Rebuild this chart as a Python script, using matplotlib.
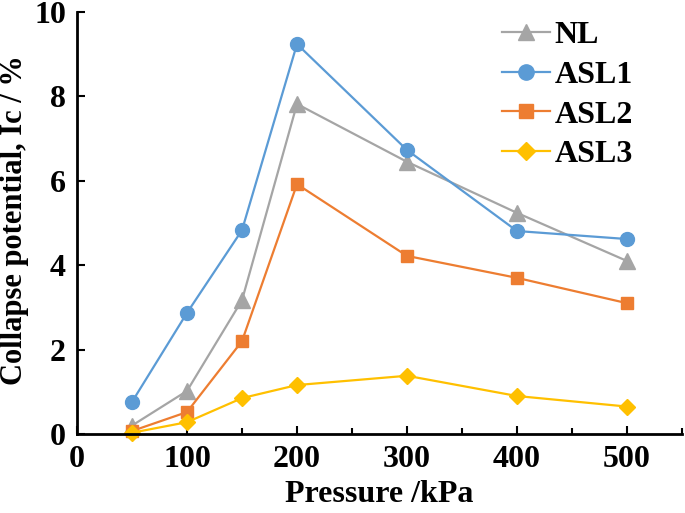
import matplotlib
matplotlib.use("Agg")
import matplotlib.pyplot as plt
from matplotlib.ticker import MultipleLocator

pressure = [50, 100, 150, 200, 300, 400, 500]
nl   = [0.20, 1.02, 3.17, 7.82, 6.45, 5.24, 4.10]
asl1 = [0.76, 2.87, 4.83, 9.24, 6.73, 4.81, 4.62]
asl2 = [0.07, 0.52, 2.20, 5.92, 4.22, 3.70, 3.10]
asl3 = [0.03, 0.28, 0.85, 1.16, 1.38, 0.90, 0.65]
series_names = ["NL", "ASL1", "ASL2", "ASL3"]

plt.rcParams['font.family'] = ['Liberation Serif', 'DejaVu Serif']
plt.rcParams['font.weight'] = 'bold'

fig = plt.figure(figsize=(6.85, 5.13), dpi=100)
ax = fig.add_axes([0.1124, 0.154, 0.8832, 0.8226])

styles = [
    dict(color='#A5A5A5', marker='^', ms=11),
    dict(color='#5B9BD5', marker='o', ms=10),
    dict(color='#ED7D31', marker='s', ms=9),
    dict(color='#FFC000', marker='D', ms=8),
]
for vals, name, st in zip([nl, asl1, asl2, asl3], series_names, styles):
    ax.plot(pressure, vals, color=st['color'], marker=st['marker'], ms=st['ms'],
            lw=1.6, mec=st['color'], mfc=st['color'], label=name, clip_on=False)

ax.set_xlim(0, 550)
ax.set_ylim(0, 10)
ax.xaxis.set_major_locator(MultipleLocator(100))
ax.xaxis.set_minor_locator(MultipleLocator(50))
ax.yaxis.set_major_locator(MultipleLocator(2))
ax.tick_params(axis='both', which='major', direction='in', length=6, width=1.5,
               labelsize=23, pad=8)
ax.tick_params(axis='x', which='minor', direction='in', length=4, width=1.5)
for s in ['top', 'right']:
    ax.spines[s].set_visible(False)
for s in ['left', 'bottom']:
    ax.spines[s].set_linewidth(2)

for lab in ax.get_xticklabels() + ax.get_yticklabels():
    lab.set_fontweight('bold')

ax.set_xlabel('Pressure /kPa', fontsize=23, fontweight='bold', labelpad=4)
ax.set_ylabel('Collapse potential, Ic / %', fontsize=22, fontweight='bold')
ax.yaxis.set_label_coords(-0.079, 0.507)

leg = fig.legend(*ax.get_legend_handles_labels(), loc='upper left',
                 bbox_to_anchor=(502 / 685, 1 - 21 / 513),
                 bbox_transform=fig.transFigure, frameon=False,
                 prop={'family': 'Liberation Serif', 'weight': 'bold', 'size': 23},
                 handlelength=1.5, handletextpad=0.15, labelspacing=0.32,
                 borderaxespad=0, borderpad=0, markerscale=1.1)

fig.savefig('out.png', dpi=100)
